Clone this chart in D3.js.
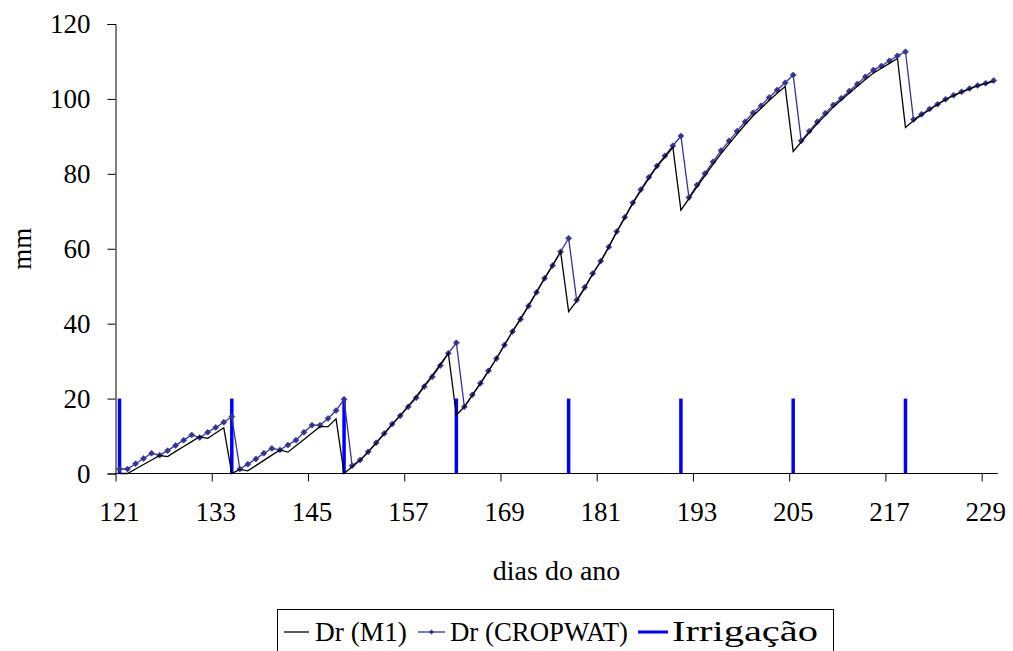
<!DOCTYPE html>
<html>
<head>
<meta charset="utf-8">
<script src="https://cdn.jsdelivr.net/npm/d3@7"></script>
<style>
  html, body { margin: 0; padding: 0; background: #fff; }
  svg { display: block; }
  svg text { font-family: "Liberation Serif", "Times New Roman", Tinos, "DejaVu Serif", serif !important; fill: #000; }
</style>
</head>
<body>
<svg id="chart" width="1013" height="651"></svg>
<script>
// Day of year for the first value in each series (one value per day)
const firstDay = 121;

// Root-zone depletion, model M1 (mm)
const drM1 = [
  0, 0, 1.2, 2.4, 3.6, 4.8, 4.5, 5.9, 7.2, 8.5, 9.8, 9.4, 10.8, 12.2, 0,
  1.1, 0.7, 2.1, 3.5, 4.9, 6.3, 5.7, 7.4, 9.1, 10.8, 12.5, 12.5, 14.6, 0,
  1.8, 3.5, 5.7, 8.1, 10.6, 13.1, 15.5, 18.0, 20.5, 23.4, 26.2, 29.1, 32.1, 15.6,
  17.8, 20.9, 24.0, 27.3, 30.7, 34.3, 37.9, 41.3, 44.8, 48.5, 52.1, 55.6, 59.2, 43.2,
  46.0, 49.5, 53.2, 56.6, 60.4, 64.5, 68.3, 72.1, 75.5, 78.8, 81.9, 84.5, 87.1, 70.3,
  73.4, 76.5, 79.5, 82.5, 85.4, 88.0, 90.6, 93.1, 95.5, 97.5, 99.6, 101.5, 103.3, 86.0,
  88.5, 91.0, 93.4, 95.6, 97.8, 99.7, 101.6, 103.4, 105.2, 106.9, 108.2, 109.5, 110.8, 92.4,
  94.2, 95.7, 97.1, 98.5, 99.8, 100.9, 101.8, 102.7, 103.5, 104.1, 104.7
];

// Root-zone depletion, CROPWAT (mm)
const drCropwat = [
  1.2, 1.2, 2.6, 4.0, 5.4, 4.9, 6.1, 7.5, 8.9, 10.3, 9.6, 11.0, 12.3, 13.7, 15.2,
  1.2, 2.5, 3.9, 5.4, 6.7, 6.3, 7.6, 8.9, 11.0, 12.9, 12.9, 14.7, 16.8, 19.8,
  2.1, 3.6, 5.8, 8.2, 10.7, 13.2, 15.4, 17.8, 20.2, 23.2, 25.8, 28.8, 32.1, 34.9,
  17.8, 21.0, 24.1, 27.4, 30.7, 34.3, 37.9, 41.2, 44.7, 48.4, 52.1, 55.5, 59.2, 62.8,
  46.3, 49.7, 53.4, 56.7, 60.5, 64.6, 68.4, 72.3, 75.8, 79.1, 82.1, 84.8, 87.5, 90.1,
  73.7, 77.0, 80.1, 83.2, 86.2, 88.8, 91.4, 93.9, 96.3, 98.2, 100.4, 102.4, 104.3, 106.4,
  88.8, 91.4, 93.9, 96.2, 98.4, 100.2, 102.1, 104.0, 105.9, 107.7, 108.8, 110.2, 111.5, 112.6,
  94.5, 95.9, 97.3, 98.6, 99.9, 101.0, 101.9, 102.8, 103.6, 104.2, 104.9
];

// Irrigation events: day of year and applied depth (mm)
const irrigationDays = [121, 135, 149, 163, 177, 191, 205, 219];
const irrigationDepth = [20, 20, 20, 20, 20, 20, 20, 20];

// Axis ticks
const xTickLabels = [121, 133, 145, 157, 169, 181, 193, 205, 217, 229];
const yTicks = [0, 20, 40, 60, 80, 100, 120];

const svg = d3.select("#chart");
const serif = '"Liberation Serif", "Times New Roman", Tinos, "DejaVu Serif", serif';
const plot = { left: 115.5, right: 997.7, top: 24, bottom: 473.5 };
const lastDay = firstDay + drM1.length - 1;

// Category-style x axis: each day occupies one slot, boundaries at half days
const x = d3.scaleLinear()
  .domain([firstDay - 0.5, lastDay + 0.5])
  .range([plot.left, plot.right]);
const y = d3.scaleLinear()
  .domain([0, 120])
  .range([plot.bottom, plot.top]);

const m1Points = drM1.map((v, i) => ({ day: firstDay + i, v }));
const cwPoints = drCropwat.map((v, i) => ({ day: firstDay + i, v }));

const fontSize = 27;

// Y axis
const yAxis = d3.axisLeft(y).tickValues(yTicks).tickSize(8).tickPadding(17);
const gy = svg.append("g").attr("transform", `translate(${plot.left},0)`).call(yAxis)
  .attr("font-family", serif).attr("font-size", fontSize);
gy.select(".domain").attr("stroke", "#000").attr("stroke-width", 1);
gy.selectAll(".tick line").attr("stroke", "#000");
gy.selectAll(".tick text").attr("fill", "#000");

// X axis: tick marks on slot boundaries, labels centred on the days
const xTickPositions = xTickLabels.map(d => d - 0.5);
const xAxisTicks = d3.axisBottom(x).tickValues(xTickPositions).tickSize(8).tickFormat("");
const gx = svg.append("g").attr("transform", `translate(0,${plot.bottom})`).call(xAxisTicks);
gx.select(".domain").attr("stroke", "#000").attr("stroke-width", 1)
  .attr("d", `M${plot.left},0H${plot.right}`);
gx.selectAll(".tick line").attr("stroke", "#000");

svg.append("g")
  .attr("font-family", serif).attr("font-size", fontSize)
  .selectAll("text")
  .data(xTickLabels)
  .join("text")
  .attr("x", d => x(d))
  .attr("y", 521)
  .attr("text-anchor", "middle")
  .text(d => d);

// Axis titles
svg.append("text")
  .attr("transform", `translate(31,${(plot.top + plot.bottom) / 2}) rotate(-90)`)
  .attr("text-anchor", "middle")
  .attr("font-family", serif).attr("font-size", fontSize)
  .text("mm");

svg.append("text")
  .attr("x", (plot.left + plot.right) / 2)
  .attr("y", 580)
  .attr("text-anchor", "middle")
  .attr("font-family", serif).attr("font-size", 28)
  .text("dias do ano");

// Irrigation bars
svg.append("g").selectAll("line")
  .data(irrigationDays.map((d, i) => ({ day: d, v: irrigationDepth[i] })))
  .join("line")
  .attr("x1", d => x(d.day)).attr("x2", d => x(d.day))
  .attr("y1", y(0)).attr("y2", d => y(d.v))
  .attr("stroke", "#0000ff")
  .attr("stroke-width", 3.5);

const line = d3.line().x(d => x(d.day)).y(d => y(d.v));

// CROPWAT series with diamond markers
const cwColor = "#333399";
svg.append("path")
  .datum(cwPoints)
  .attr("d", line)
  .attr("fill", "none")
  .attr("stroke", cwColor)
  .attr("stroke-width", 1.3);

const diamond = "M0,-3L3,0L0,3L-3,0Z";
svg.append("g").selectAll("path")
  .data(cwPoints)
  .join("path")
  .attr("transform", d => `translate(${x(d.day)},${y(d.v)})`)
  .attr("d", diamond)
  .attr("fill", cwColor)
  .attr("stroke", cwColor)
  .attr("stroke-width", 0.6);

// M1 series
svg.append("path")
  .datum(m1Points)
  .attr("d", line)
  .attr("fill", "none")
  .attr("stroke", "#000")
  .attr("stroke-width", 1.3);

// Legend: box centred under the plot, entries at fixed slots
const legend = svg.append("g").attr("font-family", serif).attr("font-size", 27.5);
const legendY = 632;
legend.append("rect")
  .attr("x", 277.5).attr("y", 609.5)
  .attr("width", 556).attr("height", 60)
  .attr("fill", "#fff").attr("stroke", "#000").attr("stroke-width", 1);

const items = [
  { label: "Dr (M1)", color: "#000", width: 1.3, marker: false, x0: 284, x1: 309, tx: 315, tw: 92, fs: 27.5 },
  { label: "Dr (CROPWAT)", color: cwColor, width: 1.3, marker: true, x0: 418, x1: 445, tx: 450, tw: 178, fs: 27.5 },
  { label: "Irrigação", color: "#0000ff", width: 3, marker: false, x0: 638, x1: 668, tx: 672, tw: 146, fs: 30 }
];
items.forEach(it => {
  legend.append("line")
    .attr("x1", it.x0).attr("x2", it.x1)
    .attr("y1", legendY).attr("y2", legendY)
    .attr("stroke", it.color).attr("stroke-width", it.width);
  if (it.marker) {
    legend.append("path")
      .attr("transform", `translate(${(it.x0 + it.x1) / 2},${legendY})`)
      .attr("d", "M0,-2.5L2.5,0L0,2.5L-2.5,0Z")
      .attr("fill", it.color);
  }
  legend.append("text")
    .attr("x", it.tx)
    .attr("y", legendY + 9)
    .attr("font-size", it.fs)
    .attr("textLength", it.tw)
    .attr("lengthAdjust", "spacingAndGlyphs")
    .text(it.label);
});
</script>
</body>
</html>
